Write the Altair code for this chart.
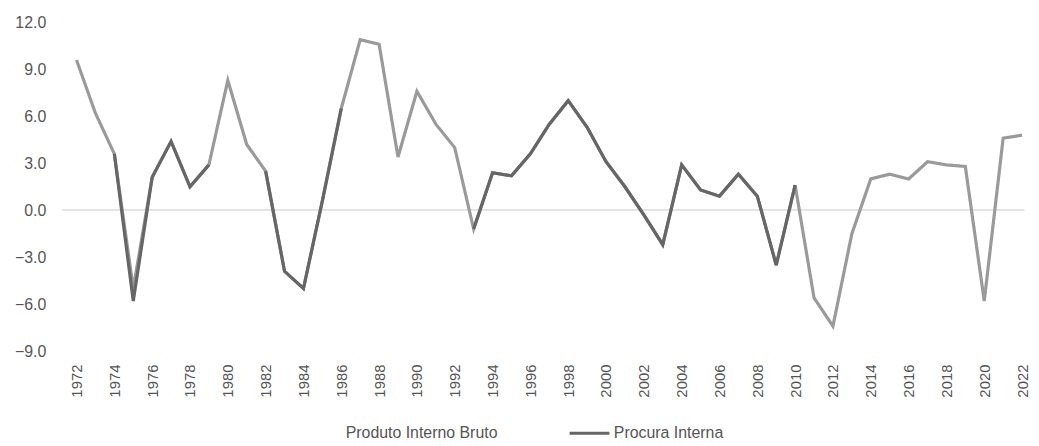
import altair as alt
import pandas as pd

# --- data -------------------------------------------------------------------
anos = list(range(1972, 2023))

pib = [9.6, 6.2, 3.6, -5.0, 2.1, 4.4, 1.5, 2.9, 8.3, 4.2,
       2.5, -3.9, -5.0, 0.6, 6.5, 10.9, 10.6, 3.4, 7.6, 5.5,
       4.0, -1.2, 2.4, 2.2, 3.6, 5.5, 7.0, 5.3, 3.1, 1.5,
       -0.3, -2.2, 2.9, 1.3, 0.9, 2.3, 0.9, -3.5, 1.6, -5.6,
       -7.4, -1.5, 2.0, 2.3, 2.0, 3.1, 2.9, 2.8, -5.8, 4.6,
       4.8]

procura = [None, None, 3.6, -5.8, 2.1, 4.4, 1.5, 2.9, None, None,
           2.5, -3.9, -5.0, 0.6, 6.5, None, None, None, None, None,
           None, -1.2, 2.4, 2.2, 3.6, 5.5, 7.0, 5.3, 3.1, 1.5,
           -0.3, -2.2, 2.9, 1.3, 0.9, 2.3, 0.9, -3.5, 1.6, None,
           None, None, None, None, None, None, None, None, None, None,
           None]

series_names = ["Produto Interno Bruto", "Procura Interna"]
series_colors = ["#9a9a9a", "#666666"]
x_ticks = list(range(1972, 2023, 2))
y_ticks = [-9, -6, -3, 0, 3, 6, 9, 12]

# --- tables ------------------------------------------------------------------
df_pib = pd.DataFrame({"Ano": anos, "Valor": pib, "Serie": series_names[0]})

rows = []
seg = 0
prev_none = True
for a, v in zip(anos, procura):
    if v is None:
        prev_none = True
        continue
    if prev_none:
        seg += 1
        prev_none = False
    rows.append({"Ano": a, "Valor": v, "Serie": series_names[1], "Trecho": seg})
df_proc = pd.DataFrame(rows)

FONT = "Liberation Sans"
LBL = "#555555"

x_enc = alt.X(
    "Ano:Q",
    scale=alt.Scale(domain=[1971.265, 2022.105], nice=False, zero=False),
    axis=alt.Axis(values=x_ticks, format="d", labelAngle=-90, labelFontSize=15,
                  labelColor=LBL, labelFont=FONT, domain=False, ticks=False,
                  tickSize=0, grid=False, labelPadding=13, title=None,
                  labelFlush=False, labelOverlap=False),
)
y_enc = alt.Y(
    "Valor:Q",
    scale=alt.Scale(domain=[-9, 12], nice=False, zero=False),
    axis=alt.Axis(values=y_ticks, format=".1f", labelFontSize=16, labelColor=LBL,
                  labelFont=FONT, domain=False, ticks=False, tickSize=0,
                  grid=False, labelPadding=17, title=None),
)
color_enc = alt.Color(
    "Serie:N",
    scale=alt.Scale(domain=series_names, range=series_colors),
    legend=alt.Legend(
        orient="none", legendX=239, legendY=392, direction="horizontal",
        title=None, symbolType="stroke", symbolSize=1600, symbolStrokeWidth=3,
        labelFontSize=16, labelColor=LBL, labelFont=FONT, labelOffset=3,
        columnPadding=66, padding=0,
        symbolOpacity={"expr": "datum.value === 'Produto Interno Bruto' ? 0 : 1"},
    ),
)

zero = alt.Chart(df_pib).mark_rule(color="#e4e4e4", strokeWidth=1.5).encode(
    y=alt.datum(0)
)

line_pib = alt.Chart(df_pib).mark_line(strokeWidth=3.2).encode(
    x=x_enc, y=y_enc, color=color_enc
)

line_proc = alt.Chart(df_proc).mark_line(strokeWidth=3.2).encode(
    x=x_enc, y=y_enc, color=color_enc, detail="Trecho:N"
)

chart = (
    alt.layer(zero, line_pib, line_proc)
    .properties(width=968, height=331,
                padding={"left": 6, "top": 5, "right": 0, "bottom": 0})
    .configure(font=FONT)
    .configure_view(stroke=None)
)

chart.save("out.html", embed_options={"renderer": "svg", "actions": False})
